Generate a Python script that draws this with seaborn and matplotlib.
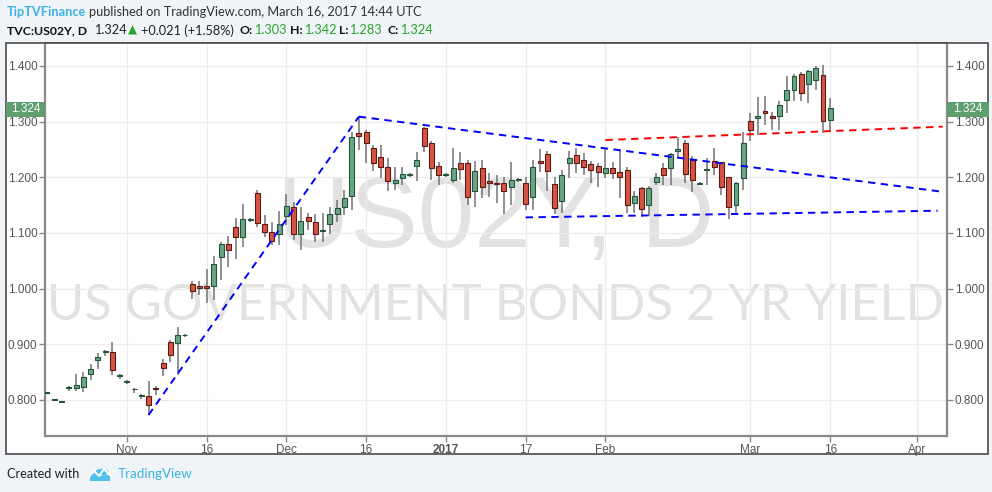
"""
US02Y daily candlestick chart, TradingView-style snapshot.
"""

import numpy as np
import pandas as pd
import matplotlib
matplotlib.use("Agg")
import matplotlib.pyplot as plt
import seaborn as sns
from matplotlib import font_manager
from matplotlib.patches import Rectangle, Circle
from matplotlib.transforms import blended_transform_factory


# --- daily OHLC, Oct 17 2016 .. Mar 16 2017 (weekdays) ---
START_DATE = "2016-10-17"
END_DATE = "2017-03-16"
AXIS_END_DATE = "2017-04-03"

OPEN = [
    0.812, 0.800, 0.797, 0.821, 0.822, 0.824, 0.846, 0.872, 0.886, 0.887,
    0.843, 0.833, 0.819, 0.807, 0.807, 0.822, 0.867, 0.904, 0.902, 0.916,
    1.008, 1.005, 1.005, 1.005, 1.057, 1.080, 1.110, 1.093, 1.124, 1.171,
    1.117, 1.102, 1.098, 1.131, 1.147, 1.099, 1.128, 1.120, 1.104, 1.117,
    1.135, 1.147, 1.167, 1.279, 1.282, 1.252, 1.236, 1.219, 1.190, 1.199,
    1.204, 1.221, 1.288, 1.261, 1.221, 1.204, 1.195, 1.225, 1.226, 1.176,
    1.216, 1.193, 1.190, 1.189, 1.183, 1.195, 1.190, 1.164, 1.229, 1.241,
    1.188, 1.157, 1.226, 1.240, 1.231, 1.224, 1.220, 1.207, 1.216, 1.210,
    1.213, 1.154, 1.180, 1.150, 1.192, 1.216, 1.216, 1.247, 1.261, 1.231,
    1.188, 1.213, 1.230, 1.227, 1.200, 1.150, 1.199, 1.302, 1.307, 1.319,
    1.311, 1.311, 1.339, 1.356, 1.385, 1.367, 1.374, 1.384, 1.303,
]
HIGH = [
    0.815, 0.802, 0.799, 0.826, 0.847, 0.851, 0.864, 0.884, 0.889, 0.904,
    0.846, 0.836, 0.822, 0.810, 0.835, 0.825, 0.873, 0.907, 0.932, 0.919,
    1.014, 1.014, 1.035, 1.059, 1.083, 1.095, 1.127, 1.152, 1.127, 1.177,
    1.132, 1.120, 1.139, 1.170, 1.156, 1.147, 1.136, 1.135, 1.136, 1.147,
    1.159, 1.177, 1.282, 1.309, 1.285, 1.258, 1.258, 1.234, 1.219, 1.219,
    1.207, 1.246, 1.290, 1.266, 1.228, 1.207, 1.252, 1.245, 1.231, 1.230,
    1.231, 1.208, 1.204, 1.201, 1.228, 1.198, 1.201, 1.232, 1.250, 1.247,
    1.201, 1.213, 1.248, 1.252, 1.243, 1.230, 1.226, 1.252, 1.228, 1.248,
    1.218, 1.176, 1.183, 1.184, 1.207, 1.226, 1.244, 1.272, 1.267, 1.238,
    1.192, 1.234, 1.252, 1.228, 1.201, 1.192, 1.282, 1.315, 1.344, 1.346,
    1.318, 1.338, 1.382, 1.385, 1.389, 1.393, 1.400, 1.402, 1.342,
]
LOW = [
    0.811, 0.799, 0.796, 0.817, 0.817, 0.814, 0.836, 0.855, 0.879, 0.845,
    0.837, 0.829, 0.813, 0.801, 0.773, 0.809, 0.843, 0.869, 0.845, 0.914,
    0.981, 0.989, 0.974, 0.980, 1.016, 1.038, 1.054, 1.075, 1.119, 1.111,
    1.093, 1.078, 1.078, 1.114, 1.087, 1.069, 1.105, 1.084, 1.084, 1.098,
    1.120, 1.132, 1.141, 1.249, 1.225, 1.212, 1.198, 1.176, 1.178, 1.186,
    1.200, 1.194, 1.246, 1.196, 1.186, 1.201, 1.189, 1.195, 1.150, 1.147,
    1.162, 1.165, 1.153, 1.135, 1.150, 1.191, 1.141, 1.141, 1.210, 1.175,
    1.135, 1.136, 1.198, 1.207, 1.204, 1.189, 1.182, 1.198, 1.197, 1.162,
    1.136, 1.136, 1.128, 1.130, 1.186, 1.186, 1.186, 1.237, 1.190, 1.174,
    1.186, 1.186, 1.204, 1.168, 1.126, 1.135, 1.177, 1.266, 1.276, 1.294,
    1.285, 1.285, 1.315, 1.338, 1.338, 1.334, 1.356, 1.280, 1.283,
]
CLOSE = [
    0.814, 0.801, 0.798, 0.823, 0.827, 0.842, 0.855, 0.878, 0.888, 0.854,
    0.844, 0.834, 0.820, 0.808, 0.791, 0.819, 0.858, 0.880, 0.917, 0.917,
    0.996, 1.002, 1.002, 1.045, 1.080, 1.069, 1.093, 1.126, 1.126, 1.118,
    1.102, 1.086, 1.117, 1.149, 1.099, 1.122, 1.122, 1.099, 1.106, 1.135,
    1.144, 1.163, 1.273, 1.275, 1.262, 1.226, 1.219, 1.194, 1.195, 1.206,
    1.206, 1.231, 1.257, 1.216, 1.204, 1.206, 1.216, 1.215, 1.165, 1.212,
    1.183, 1.189, 1.188, 1.176, 1.196, 1.197, 1.152, 1.219, 1.225, 1.211,
    1.145, 1.204, 1.234, 1.226, 1.219, 1.214, 1.210, 1.216, 1.207, 1.200,
    1.150, 1.167, 1.143, 1.180, 1.200, 1.204, 1.241, 1.250, 1.206, 1.195,
    1.190, 1.214, 1.219, 1.183, 1.147, 1.190, 1.262, 1.285, 1.311, 1.316,
    1.307, 1.330, 1.357, 1.382, 1.351, 1.391, 1.396, 1.302, 1.324,
]

# --- drawn trend lines (date index, yield) ---
RISE_X = [14, 43]
RISE_Y = [0.773, 1.309]
FALL_X = [43, 123.5]
FALL_Y = [1.309, 1.174]
FLOOR_X = [66, 122.8]
FLOOR_Y = [1.128, 1.140]
RED_X = [77, 123.5]
RED_Y = [1.267, 1.291]

LAST_PRICE = 1.324

Y_TICKS = [0.8, 0.9, 1.0, 1.1, 1.2, 1.3, 1.4]
X_TICK_DATES = ["2016-11-01", "2016-11-16", "2016-12-01", "2016-12-16",
                "2017-01-02", "2017-01-17", "2017-02-01", "2017-03-01",
                "2017-03-16", "2017-04-03"]
X_TICK_LABELS = ["Nov", "16", "Dec", "16", "2017", "17", "Feb", "Mar", "16", "Apr"]

UP_FILL, UP_EDGE = "#6ba583", "#225437"
DOWN_FILL, DOWN_EDGE = "#d75442", "#5b1a13"
WICK = "#737375"
TV_BLUE = "#3bb3e4"
HDR_GREEN = "#2aa52a"
MARK = "#e2e2e2"

W, H = 992, 492
XLIM = (-0.28, 124.1)
YLIM = (0.7353, 1.4413)


def has_font(name: str) -> bool:
    try:
        font_manager.findfont(font_manager.FontProperties(family=name),
                              fallback_to_default=False)
        return True
    except ValueError:
        return False


def main() -> None:
    sns.set_style("white")
    plt.rcParams["font.family"] = ["Liberation Sans", "DejaVu Sans"]

    dates = pd.bdate_range(START_DATE, END_DATE)
    axis_dates = pd.bdate_range(START_DATE, AXIS_END_DATE)
    idx = np.arange(len(dates))
    o, h, l, c = map(np.asarray, (OPEN, HIGH, LOW, CLOSE))

    fig = plt.figure(figsize=(W / 100, H / 100), dpi=100, facecolor="#f0f3f7")

    # chart frame (behind the axes)
    fig.patches.append(Rectangle((6 / W, 38 / H), 982 / W, 411 / H, transform=fig.transFigure,
                                 facecolor="white", edgecolor="#4a4a4a", lw=1.2, zorder=-5))

    ax = fig.add_axes([45 / W, 56 / H, 902 / W, 393 / H])
    ax.set_zorder(2)
    ax.set_facecolor("white")

    # watermark
    ax.text(0.5, 0.482, "US02Y, D", transform=ax.transAxes, ha="center", va="baseline",
            fontsize=73, color=MARK, zorder=0, clip_on=True)
    if has_font("Liberation Sans Narrow"):
        wm_family, wm_size = "Liberation Sans Narrow", 42
    else:
        wm_family, wm_size = "Lato", 36.5
    ax.text(0.5, 0.2952, "US GOVERNMENT BONDS 2 YR YIELD", transform=ax.transAxes,
            ha="center", va="baseline", fontsize=wm_size, family=wm_family, color=MARK,
            zorder=0, clip_on=True)

    # ticks and grid
    xt = [axis_dates.get_loc(pd.Timestamp(d)) for d in X_TICK_DATES]
    ax.set_xticks(xt)
    ax.set_xticklabels(X_TICK_LABELS)
    ax.set_yticks(Y_TICKS)
    ax.set_yticklabels([f"{v:.3f}" for v in Y_TICKS])
    ax.grid(True, color="#ececec", lw=0.9, zorder=0)
    ax.set_axisbelow(True)
    for lab in ax.get_xticklabels():
        if lab.get_text() == "2017":
            lab.set_fontweight("bold")
            lab.set_color("#333333")

    # candles
    up = c >= o
    ax.vlines(idx, l, h, color=WICK, lw=1.1, zorder=2)
    body_low = np.minimum(o, c)
    body_h = np.maximum(np.abs(c - o), 0.0012)
    ax.bar(idx[up], body_h[up], bottom=body_low[up], width=0.68,
           color=UP_FILL, edgecolor=UP_EDGE, lw=0.8, zorder=3)
    ax.bar(idx[~up], body_h[~up], bottom=body_low[~up], width=0.68,
           color=DOWN_FILL, edgecolor=DOWN_EDGE, lw=0.8, zorder=3)

    # trend lines
    dash = (0, (3.8, 2.8))
    for xs, ys, col in [(RISE_X, RISE_Y, "#0000ff"), (FALL_X, FALL_Y, "#0000ff"),
                        (FLOOR_X, FLOOR_Y, "#0000ff"), (RED_X, RED_Y, "#ff0000")]:
        sns.lineplot(x=xs, y=ys, ax=ax, color=col, lw=1.4, linestyle=dash, zorder=4)
    ax.set_xlim(*XLIM)
    ax.set_ylim(*YLIM)

    # axes styling
    for side in ("left", "right", "bottom"):
        ax.spines[side].set_visible(True)
        ax.spines[side].set_color("#8a8a8a")
        ax.spines[side].set_linewidth(1.6)
    ax.spines["top"].set_color("#4a4a4a")
    ax.spines["top"].set_linewidth(1.2)
    ax.tick_params(axis="both", which="both", direction="out", length=4, width=1,
                   color="#8a8a8a", labelcolor="#555555", labelsize=8.5)
    ax.tick_params(axis="y", left=True, right=True, labelleft=True, labelright=True, pad=1.5)
    ax.tick_params(axis="x", bottom=True, pad=2)
    ax.set_xlabel("")
    ax.set_ylabel("")

    # last price tags
    tr = blended_transform_factory(ax.transAxes, ax.transData)
    tag_h = 15 / 556.7
    for x0, wd in [(-39 / 902, 39 / 902), (1.0, 42 / 902)]:
        ax.add_patch(Rectangle((x0, LAST_PRICE - tag_h / 2 - 0.0018), wd, tag_h, transform=tr,
                               facecolor="#5f9e6f", edgecolor="none", clip_on=False, zorder=6))
        ax.text(x0 + wd / 2, LAST_PRICE - 0.0018, f"{LAST_PRICE:.3f}", transform=tr,
                ha="center", va="center", color="white", fontsize=8.5, zorder=7, clip_on=False)

    # header
    hdr = dict(fontsize=9.2, family="Lato", va="center")
    fig.text(7 / W, 1 - 12 / H, "TipTVFinance", color=TV_BLUE, fontweight="bold", **hdr)
    fig.text(89 / W, 1 - 12 / H, "published on TradingView.com, March 16, 2017 14:44 UTC",
             color="#333333", **hdr)
    y2 = 1 - 30.5 / H
    pieces = [
        (7, "TVC:US02Y, D", "#111111", "bold"),
        (94, "1.324", "#222222", "normal"),
        (141, "+0.021 (+1.58%)", "#222222", "normal"),
        (240, "O:", "#111111", "bold"),
        (254, "1.303", HDR_GREEN, "normal"),
        (290, "H:", "#111111", "bold"),
        (304, "1.342", HDR_GREEN, "normal"),
        (339, "L:", "#111111", "bold"),
        (349, "1.283", HDR_GREEN, "normal"),
        (387, "C:", "#111111", "bold"),
        (400, "1.324", HDR_GREEN, "normal"),
    ]
    for x, txt, col, wt in pieces:
        size = 8.8 if wt == "bold" else 9.2
        fig.text(x / W, y2, txt, color=col, fontweight=wt, fontsize=size, family="Lato",
                 va="center")
    fig.text(127.5 / W, y2, "\u25b2", color=HDR_GREEN, fontsize=8.5, family="DejaVu Sans",
             va="center")

    # footer
    fig.text(7 / W, 1 - 474 / H, "Created with", color="#222222", fontsize=9.2, family="Lato",
             va="center")
    fig.text(118 / W, 1 - 474 / H, "TradingView", color=TV_BLUE, fontsize=9.6, family="Lato",
             va="center")
    logo = "#4fc1ea"
    for cx, cy, r in [(95, 476, 5.5), (102, 472, 6.5), (106, 477, 4.5)]:
        fig.patches.append(Circle((cx / W, 1 - cy / H), r / W, transform=fig.transFigure,
                                  facecolor=logo, edgecolor="none"))
    fig.patches.append(Rectangle((90 / W, 1 - 481 / H), 20 / W, 5 / H, transform=fig.transFigure,
                                 facecolor=logo, edgecolor="none"))
    zig = np.array([[88, 478], [94, 471], [99, 476], [104, 469], [111, 476]])
    fig.lines.append(plt.Line2D(zig[:, 0] / W, 1 - zig[:, 1] / H, transform=fig.transFigure,
                                color="white", lw=1.4))

    fig.savefig("out.png", dpi=100, facecolor=fig.get_facecolor())
    plt.close(fig)


if __name__ == "__main__":
    main()
